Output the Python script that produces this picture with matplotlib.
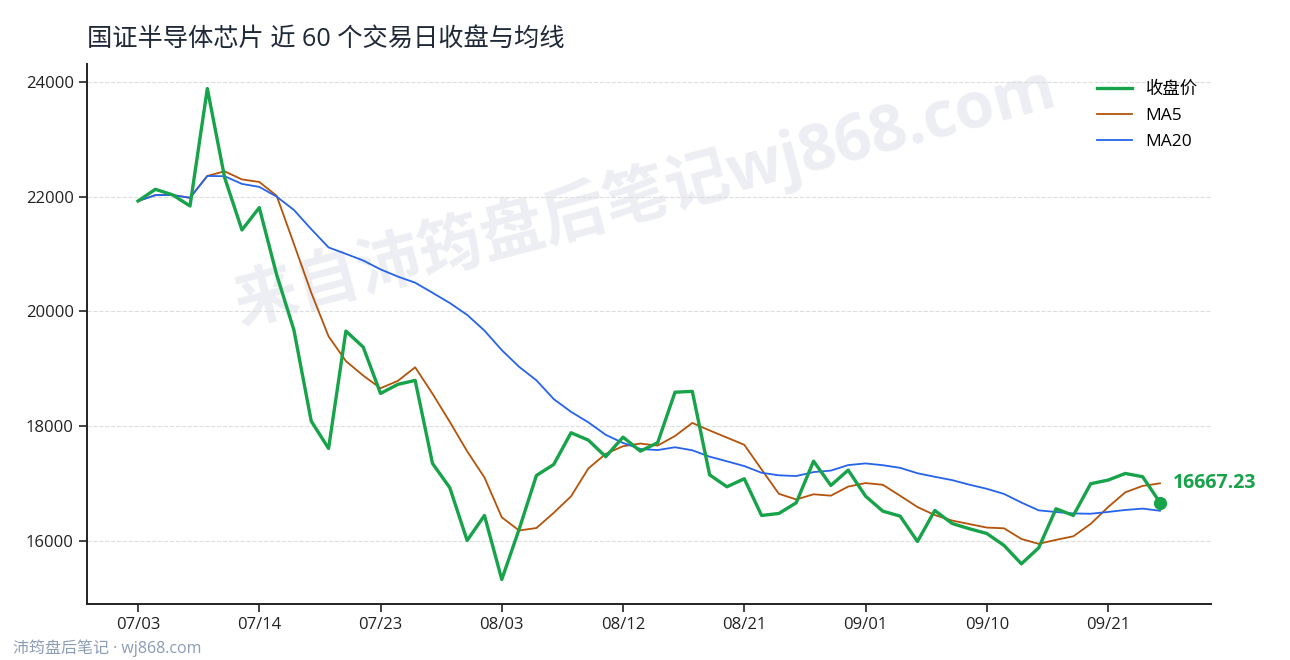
import matplotlib
matplotlib.use('Agg')
import matplotlib.pyplot as plt

plt.rcParams['font.family'] = ['Open Sans', 'Noto Sans CJK SC', 'DejaVu Sans']

# 近 60 个交易日收盘价, 最后一点取标注值
close = [21923, 22127, 22030, 21836, 23883, 22330, 21418, 21808, 20641, 19673,
         18086, 17610, 19656, 19377, 18569, 18727, 18796, 17349, 16925, 16006,
         16442, 15326, 16200, 17139, 17331, 17884, 17755, 17466, 17807, 17563,
         17710, 18590, 18605, 17150, 16942, 17082, 16442, 16477, 16663, 17389,
         16965, 17233, 16779, 16517, 16430, 15988, 16529, 16302, 16210, 16128,
         15919, 15599, 15878, 16559, 16442, 16995, 17058, 17174, 17117, 16667.23]

ma5 = [21923, 22025, 22027, 21979, 22360, 22441, 22299, 22255, 22016, 21174,
       20325, 19564, 19133, 18880, 18660, 18788, 19025, 18564, 18073, 17561,
       17104, 16410, 16180, 16223, 16488, 16776, 17262, 17515, 17649, 17695,
       17660, 17827, 18055, 17924, 17799, 17674, 17244, 16819, 16721, 16811,
       16787, 16945, 17006, 16977, 16785, 16589, 16449, 16353, 16292, 16231,
       16218, 16032, 15947, 16017, 16079, 16295, 16586, 16846, 16957, 17002]

ma20 = [21923, 22025, 22027, 21979, 22360, 22355, 22221, 22169, 22000, 21767,
        21432, 21114, 21002, 20886, 20731, 20606, 20499, 20324, 20145, 19939,
        19664, 19324, 19033, 18798, 18470, 18248, 18065, 17848, 17706, 17601,
        17582, 17631, 17578, 17467, 17386, 17303, 17186, 17142, 17129, 17198,
        17224, 17320, 17349, 17318, 17272, 17178, 17116, 17058, 16978, 16907,
        16817, 16667, 16531, 16502, 16477, 16472, 16503, 16538, 16561, 16524]

tick_pos = [0, 7, 14, 21, 28, 35, 42, 49, 56]
tick_labels = ['07/03', '07/14', '07/23', '08/03', '08/12', '08/21', '09/01', '09/10', '09/21']
yticks = [16000, 18000, 20000, 22000, 24000]

x = list(range(len(close)))

fig = plt.figure(figsize=(12.9, 6.6), dpi=100)
ax = fig.add_axes([0.0674, 0.0848, 0.8714, 0.8182])

green = '#16a34a'
ax.plot(x, close, color=green, lw=2.4, label='收盘价', zorder=4)
ax.plot(x, ma5, color='#b45309', lw=1.3, label='MA5', zorder=3)
ax.plot(x, ma20, color='#2563eb', lw=1.3, label='MA20', zorder=3)

# 最新收盘点
ax.plot(x[-1], close[-1], 'o', color=green, ms=8.5, zorder=5)
ax.annotate('%.2f' % close[-1], (x[-1], close[-1]), xytext=(9, 14),
            textcoords='offset points', color=green, fontsize=14,
            fontweight='bold', va='center', ha='left')

ax.set_xticks(tick_pos)
ax.set_xticklabels(tick_labels)
ax.set_yticks(yticks)
ax.tick_params(labelsize=12, length=6, width=1.2, colors='#222222')
ax.grid(axis='y', linestyle='--', color='#dddddd', lw=0.8)
ax.set_axisbelow(True)
for s in ['top', 'right']:
    ax.spines[s].set_visible(False)
for s in ['left', 'bottom']:
    ax.spines[s].set_linewidth(1.4)
    ax.spines[s].set_color('#222222')

ax.set_title('国证半导体芯片 近 60 个交易日收盘与均线', loc='left', fontsize=18.2,
             color='#1f2937', pad=13)
ax.legend(loc='upper right', frameon=False, fontsize=12.5, handlelength=2.0,
          labelspacing=0.55, bbox_to_anchor=(1.002, 0.996))

# 水印
ax.text(0.496, 0.755, '来自沛筠盘后笔记wj868.com', transform=ax.transAxes,
        rotation=15, fontsize=46, fontweight='bold', color='#edeef3',
        ha='center', va='center', zorder=0)
fig.text(0.010, 0.018, '沛筠盘后笔记 · wj868.com', fontsize=11.5,
         color='#8d9cb6', ha='left', va='center')

fig.savefig('out.png', dpi=100)
